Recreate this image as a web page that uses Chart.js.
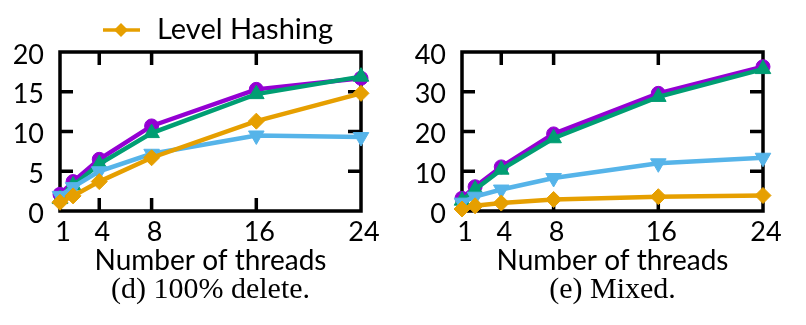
<!DOCTYPE html>
<html>
<head>
<meta charset="utf-8">
<script src="https://cdn.jsdelivr.net/npm/chart.js@4/dist/chart.umd.min.js"></script>
<style>
body { margin: 0; background: #fff; width: 806px; height: 325px; position: relative; overflow: hidden; }
.box { position: absolute; top: 0; height: 325px; }
</style>
</head>
<body>
<div class="box" style="left:0;width:400px"><canvas id="c1" width="400" height="325"></canvas></div>
<div class="box" style="left:400px;width:406px"><canvas id="c2" width="406" height="325"></canvas></div>
<script>
// x values (number of threads) and tick labels
var threads = [1, 2, 4, 8, 16, 24];
var xTicks = [1, 4, 8, 16, 24];
var yTicksDelete = [0, 5, 10, 15, 20];
var yTicksMixed = [0, 10, 20, 30, 40];

// (d) 100% delete
var delPurple = [2.1, 3.7, 6.5, 10.7, 15.3, 16.7];
var delGreen  = [1.5, 3.2, 5.9, 9.8, 14.7, 16.9];
var delBlue   = [1.9, 3.0, 5.0, 7.2, 9.5, 9.3];
var delLevel  = [1.1, 1.9, 3.7, 6.7, 11.3, 14.8];

// (e) Mixed
var mixPurple = [3.2, 6.1, 11.1, 19.4, 29.6, 36.3];
var mixGreen  = [2.6, 5.4, 10.4, 18.3, 28.7, 35.7];
var mixBlue   = [2.1, 3.6, 5.4, 8.3, 12.0, 13.4];
var mixLevel  = [0.5, 1.3, 2.0, 2.9, 3.6, 3.9];

var PURPLE = '#9400d3', GREEN = '#009e73', BLUE = '#56b4e9', ORANGE = '#e69f00';
var SANS = 'Lato';

function pts(vals) {
  var out = [];
  for (var i = 0; i < threads.length; i++) out.push({x: threads[i], y: vals[i]});
  return out;
}

function ds(label, vals, color, style, radius, rot) {
  return {
    label: label, data: pts(vals),
    borderColor: color, backgroundColor: color, borderWidth: 4.5,
    pointStyle: style, pointRadius: radius, pointRotation: rot || 0,
    pointBackgroundColor: color, pointBorderColor: color, pointBorderWidth: 1,
    tension: 0, clip: false
  };
}

// box around the plot with gnuplot style inward ticks
var frame = {
  id: 'frame',
  beforeDatasetsDraw: function(chart) {
    var a = chart.chartArea, ctx = chart.ctx;
    var sx = chart.scales.x, sy = chart.scales.y, tl = 13;
    ctx.save();
    ctx.strokeStyle = '#000';
    ctx.lineWidth = 3.5;
    ctx.beginPath();
    sx.ticks.forEach(function(t) {
      var px = sx.getPixelForValue(t.value);
      if (px <= a.left + 2 || px >= a.right - 2) return;
      ctx.moveTo(px, a.bottom); ctx.lineTo(px, a.bottom - tl);
      ctx.moveTo(px, a.top); ctx.lineTo(px, a.top + tl);
    });
    sy.ticks.forEach(function(t) {
      var py = sy.getPixelForValue(t.value);
      if (py <= a.top + 2 || py >= a.bottom - 2) return;
      ctx.moveTo(a.left, py); ctx.lineTo(a.left + tl, py);
      ctx.moveTo(a.right, py); ctx.lineTo(a.right - tl, py);
    });
    ctx.stroke();
    ctx.lineJoin = 'miter';
    ctx.strokeRect(a.left, a.top, a.right - a.left, a.bottom - a.top);
    ctx.restore();
  }
};

// sub-figure caption, centred under the plot box
var caption = {
  id: 'caption',
  afterDraw: function(chart, args, opts) {
    var a = chart.chartArea, ctx = chart.ctx;
    ctx.save();
    ctx.fillStyle = '#000';
    ctx.font = '30px "Liberation Serif"';
    ctx.textAlign = 'center';
    ctx.textBaseline = 'alphabetic';
    ctx.fillText(opts.text, (a.left + a.right) / 2, 298);
    ctx.restore();
  }
};

// only Level Hashing shows in the (cropped) key
var keyLegend = {
  id: 'keyLegend',
  afterDraw: function(chart) {
    var ctx = chart.ctx, y = 30, cx = 121;
    ctx.save();
    ctx.strokeStyle = ORANGE; ctx.fillStyle = ORANGE; ctx.lineWidth = 3.5;
    ctx.beginPath(); ctx.moveTo(103, y); ctx.lineTo(140, y); ctx.stroke();
    ctx.beginPath();
    ctx.moveTo(cx, y - 7); ctx.lineTo(cx + 7, y); ctx.lineTo(cx, y + 7); ctx.lineTo(cx - 7, y);
    ctx.closePath(); ctx.fill();
    ctx.fillStyle = '#000';
    ctx.font = '29px ' + SANS;
    ctx.textBaseline = 'alphabetic';
    ctx.fillText('Level Hashing', 157, 39);
    ctx.restore();
  }
};

function makeChart(id, captionText, p, g, b, l, yMax, yTicks, yWidth, padRight, extra) {
  return new Chart(document.getElementById(id), {
    type: 'line',
    data: {
      datasets: [
        ds('Level Hashing', l, ORANGE, 'rectRot', 8),
        ds('blue', b, BLUE, 'triangle', 9, 180),
        ds('green', g, GREEN, 'triangle', 9),
        ds('purple', p, PURPLE, 'circle', 7)
      ]
    },
    options: {
      responsive: false,
      animation: false,
      layout: {padding: {top: 52, left: 0, right: padRight, bottom: 50}},
      plugins: {
        legend: {display: false},
        tooltip: {enabled: false},
        caption: {text: captionText}
      },
      scales: {
        x: {
          type: 'linear', min: 1, max: 24,
          afterBuildTicks: function(s) { s.ticks = xTicks.map(function(v) { return {value: v}; }); },
          afterFit: function(s) { s.height = 64; },
          grid: {display: false, drawTicks: false},
          border: {display: false},
          ticks: {color: '#000', font: {family: SANS, size: 27}, padding: 5, labelOffset: 3, maxRotation: 0, autoSkip: false},
          title: {display: true, text: 'Number of threads', color: '#000', font: {family: SANS, size: 28, lineHeight: 1.0}, padding: {top: 0, bottom: 0}}
        },
        y: {
          min: 0, max: yMax,
          afterBuildTicks: function(s) { s.ticks = yTicks.map(function(v) { return {value: v}; }); },
          afterFit: function(s) { s.width = yWidth; },
          grid: {display: false, drawTicks: false},
          border: {display: false},
          ticks: {color: '#000', font: {family: SANS, size: 27}, padding: 16, labelOffset: 3, autoSkip: false}
        }
      }
    },
    plugins: [frame, caption].concat(extra || [])
  });
}

makeChart('c1', '(d) 100% delete.', delPurple, delGreen, delBlue, delLevel, 20, yTicksDelete, 60, 39, [keyLegend]);
makeChart('c2', '(e) Mixed.', mixPurple, mixGreen, mixBlue, mixLevel, 40, yTicksMixed, 62, 43);
</script>
</body>
</html>
